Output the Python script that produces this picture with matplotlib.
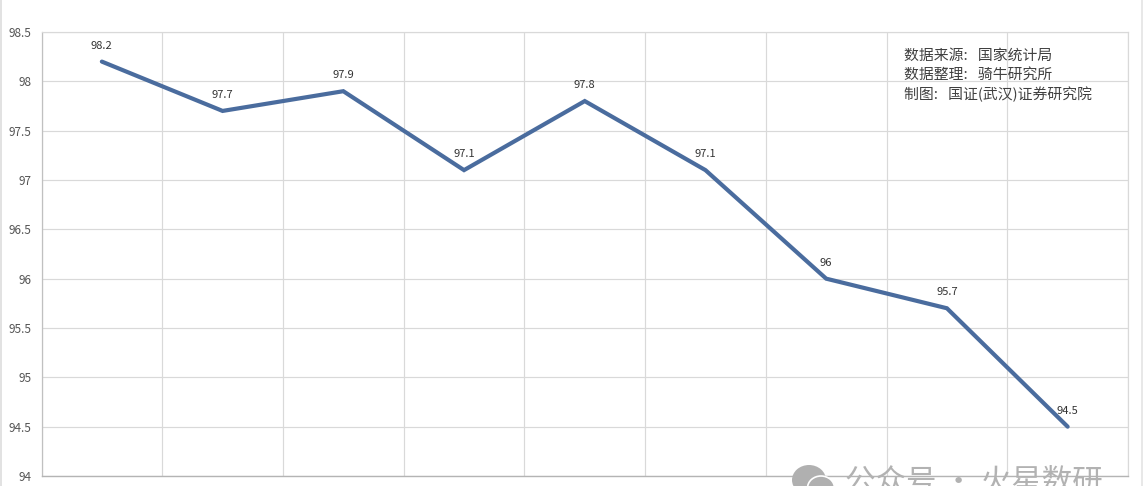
import matplotlib
matplotlib.use('Agg')
import matplotlib.pyplot as plt
from matplotlib.patches import Ellipse, Rectangle

plt.rcParams['font.family'] = ['Noto Sans CJK SC', 'DejaVu Sans']

W, H = 1143, 486

values = [98.2, 97.7, 97.9, 97.1, 97.8, 97.1, 96, 95.7, 94.5]
value_labels = ['98.2', '97.7', '97.9', '97.1', '97.8', '97.1', '96', '95.7', '94.5']
y_ticks = [94, 94.5, 95, 95.5, 96, 96.5, 97, 97.5, 98, 98.5]
y_tick_labels = ['94', '94.5', '95', '95.5', '96', '96.5', '97', '97.5', '98', '98.5']
notes = ['数据来源:   国家统计局', '数据整理:   骑牛研究所', '制图:   国证(武汉)证券研究院']
watermark = '公众号 · 火星数研'


def main():
    fig = plt.figure(figsize=(W / 100, H / 100), dpi=100)
    ax = fig.add_axes([41.5 / W, 1 - 476 / H, (1128 - 41.5) / W, (476 - 32) / H])

    x = list(range(len(values)))
    ax.plot(x, values, color='#4a6c9e', lw=3.0, solid_capstyle='round', solid_joinstyle='miter', zorder=3)
    for i, v in enumerate(values):
        ax.annotate(value_labels[i], (i, v), xytext=(0, 11.5), textcoords='offset points',
                    ha='center', va='center', fontsize=8, color='#333333', zorder=4)

    ax.set_xlim(-0.5, 8.5)
    ax.set_ylim(94, 98.5)
    ax.set_xticks([i - 0.5 for i in range(len(values) + 1)])
    ax.set_xticklabels([])
    ax.set_yticks(y_ticks)
    ax.set_yticklabels(y_tick_labels, fontsize=8.5, color='#555555')
    ax.tick_params(axis='both', length=0, pad=7)
    ax.grid(True, color='#d9d9d9', lw=0.85)
    ax.set_axisbelow(True)
    for side in ['top', 'right']:
        ax.spines[side].set_color('#d9d9d9')
        ax.spines[side].set_linewidth(0.85)
    ax.spines['left'].set_color('#c0c0c0')
    ax.spines['bottom'].set_color('#b4b4b4')
    ax.spines['left'].set_linewidth(0.9)
    ax.spines['bottom'].set_linewidth(1.0)

    # source note, placed in pixels
    for i, line in enumerate(notes):
        fig.text(904 / W, 1 - (55.5 + i * 19.5) / H, line, fontsize=10.7, color='#404040',
                 ha='left', va='center')

    # photo borders
    fig.add_artist(Rectangle((0, 0), 1.5 / W, 1, transform=fig.transFigure, color='#e2e2e2', lw=0))
    fig.add_artist(Rectangle((1 - 2 / W, 0), 2 / W, 1, transform=fig.transFigure, color='#e8e8e8', lw=0))

    # wechat style watermark, cut off by the bottom edge
    fig.add_artist(Ellipse((809 / W, 1 - 480 / H), 34 / W, 30 / H, transform=fig.transFigure,
                           color='#b0b0b0', lw=0, zorder=5))
    fig.add_artist(Ellipse((821 / W, 1 - 488 / H), 27 / W, 24 / H, transform=fig.transFigure,
                           facecolor='#b0b0b0', edgecolor='white', lw=1.2, zorder=6))
    fig.text(845 / W, 1 - 482.5 / H, watermark, fontsize=22, color='#b2b2b2',
             ha='left', va='center', zorder=7)

    fig.savefig('out.png', dpi=100)


if __name__ == '__main__':
    main()
